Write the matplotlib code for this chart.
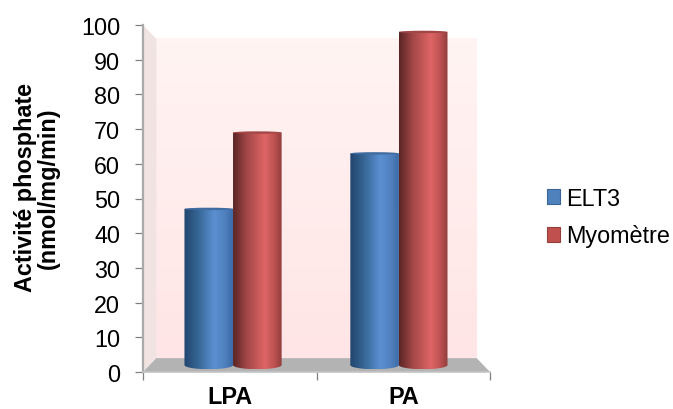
#!/usr/bin/env python3
"""Activite phosphate chart: 3D looking cylinders drawn on flat axes."""
import numpy as np
import matplotlib
matplotlib.use('Agg')
import matplotlib.pyplot as plt
from matplotlib.colors import LinearSegmentedColormap
from matplotlib.patches import Ellipse, Patch, PathPatch, Polygon
from matplotlib.path import Path

plt.rcParams['font.family'] = ['Liberation Sans', 'DejaVu Sans']

# Data
categories = ['LPA', 'PA']
elt3 = [45, 61]
myometre = [67, 96]
series_names = ['ELT3', 'Myomètre']
y_ticks = [0, 10, 20, 30, 40, 50, 60, 70, 80, 90, 100]

W, H = 673, 410
DEPTH_X = 0.077   # wall depth, in x data units
DEPTH_Y = 4.0     # wall depth, in y data units
BASE = 2.0        # cylinders stand in the middle of the floor
BAR_W = 0.28
CAP_H = 1.2
FONT = 16.8

blue_cmap = LinearSegmentedColormap.from_list('blue', [
    (0, '#22456e'), (0.25, '#33628f'), (0.62, '#5b8fd2'), (0.85, '#4f80bd'), (1, '#3c6ba6')])
red_cmap = LinearSegmentedColormap.from_list('red', [
    (0, '#592524'), (0.28, '#a34747'), (0.65, '#df6565'), (0.85, '#bd5151'), (1, '#913e3e')])
wall_cmap = LinearSegmentedColormap.from_list('wall', ['#fff4f3', '#ffe5e5'])


def draw_cylinder(ax, center, value, cmap, cap_color):
    """One bar with a horizontal gradient, rounded at the bottom, with a flat top cap."""
    left = center - BAR_W / 2
    right = center + BAR_W / 2
    top = BASE + value
    t = np.linspace(0, np.pi, 40)
    xs = center - np.cos(t) * BAR_W / 2
    ys = BASE - np.sin(t) * CAP_H
    verts = list(zip(xs, ys)) + [(right, top), (left, top), (left, BASE)]
    clip = PathPatch(Path(verts), transform=ax.transData, fc='none', ec='none')
    ax.add_patch(clip)
    img = ax.imshow(np.linspace(0, 1, 128).reshape(1, -1), cmap=cmap, aspect='auto',
                    extent=(left, right, BASE - CAP_H, top), zorder=3)
    img.set_clip_path(clip)
    ax.add_patch(Ellipse((center, top), BAR_W, 0.7, fc=cap_color, ec='none', zorder=4))


def main():
    fig = plt.figure(figsize=(W / 100, H / 100), dpi=100)
    ax = fig.add_axes([143 / W, 1 - 373 / H, 347 / W, 347 / H])
    ax.set_xlim(0, 2)
    ax.set_ylim(0, 100)

    # back wall, side wall and floor
    ax.imshow(np.linspace(0, 1, 64).reshape(-1, 1), cmap=wall_cmap, aspect='auto', zorder=0,
              extent=(DEPTH_X, 2 - DEPTH_X, DEPTH_Y, 100 - DEPTH_Y), origin='upper')
    ax.add_patch(Polygon([(0, 0), (DEPTH_X, DEPTH_Y), (DEPTH_X, 100 - DEPTH_Y), (0, 100)],
                         fc='#f0e3e1', ec='none', zorder=1))
    ax.add_patch(Polygon([(0, 0), (DEPTH_X, DEPTH_Y), (2 - DEPTH_X, DEPTH_Y), (2, 0)],
                         fc='#b3b3b3', ec='none', zorder=1))

    centers = [0.519, 1.475]
    for c, v_blue, v_red in zip(centers, elt3, myometre):
        draw_cylinder(ax, c - BAR_W / 2, v_blue, blue_cmap, '#3f6b9f')
        draw_cylinder(ax, c + BAR_W / 2, v_red, red_cmap, '#a24646')

    ax.set_xlim(0, 2)
    ax.set_ylim(0, 100)

    for side in ['top', 'right']:
        ax.spines[side].set_visible(False)
    ax.spines['left'].set_color('#aaaaaa')
    ax.spines['left'].set_linewidth(1.6)
    ax.spines['bottom'].set_color('#c4c4c4')
    ax.spines['bottom'].set_linewidth(1.2)

    ax.set_yticks(y_ticks)
    ax.tick_params(axis='y', length=6, width=0.9, color='#808080', labelsize=FONT, pad=10.5)
    ax.set_xticks([0, 1, 2])
    ax.set_xticklabels([])
    ax.tick_params(axis='x', length=6, width=0.9, color='#808080')

    # category names sit between the ticks
    for x, name in zip([0.5, 1.5], categories):
        ax.annotate(name, (x, 0), xytext=(0, -22), textcoords='offset points', ha='center',
                    va='baseline', fontsize=FONT, fontweight='bold', annotation_clip=False)

    fig.text(37 / W, 1 - 188 / H, 'Activité phosphate\n(nmol/mg/min)', rotation=90,
             ha='center', va='center', fontsize=FONT, fontweight='bold', linespacing=1.0)

    handles = [Patch(fc='#4f81bd', ec='#3a6494', lw=0.8), Patch(fc='#c0504d', ec='#953e3c', lw=0.8)]
    ax.legend(handles, series_names, loc='center left', bbox_to_anchor=(547 / W, 1 - 218 / H),
              bbox_transform=fig.transFigure, frameon=False, fontsize=FONT,
              handlelength=0.56, handleheight=0.6, handletextpad=0.28, labelspacing=0.64,
              borderpad=0, borderaxespad=0)

    fig.savefig('out.png', dpi=100)


if __name__ == "__main__":
    main()
